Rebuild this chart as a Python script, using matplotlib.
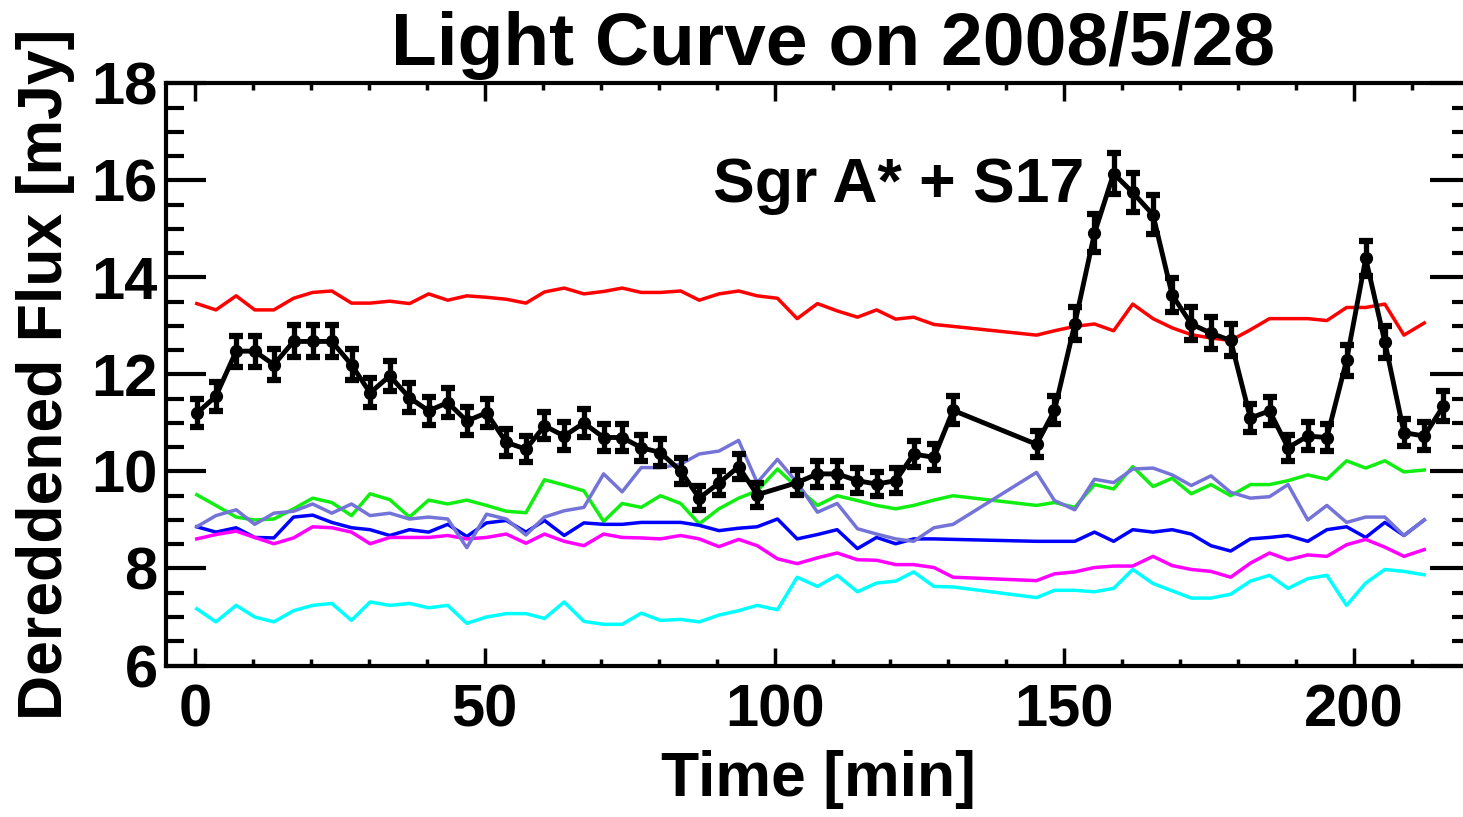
import matplotlib
matplotlib.use("Agg")
import matplotlib.pyplot as plt
from matplotlib.ticker import MultipleLocator

# time samples [min]
t_sgr = [0.3, 3.6, 7.1, 10.3, 13.6, 17.0, 20.3, 23.6, 27.0, 30.2,
         33.6, 37.0, 40.3, 43.6, 46.9, 50.3, 53.7, 57.1, 60.3, 63.7,
         67.1, 70.5, 73.7, 77.0, 80.3, 83.8, 87.0, 90.4, 93.8, 97.0,
         103.9, 107.4, 110.8, 114.3, 117.6, 120.9, 124.0, 127.5, 130.8,
         145.2, 148.3, 151.8, 155.2, 158.5, 161.8, 165.3, 168.6, 171.9, 175.3,
         178.7, 182.1, 185.4, 188.6, 192.0, 195.3, 198.7, 202.0, 205.3, 208.6,
         212.1, 215.4]

t_comp = [0.3, 3.6, 7.1, 10.3, 13.6, 17.0, 20.3, 23.6, 27.0, 30.2,
          33.6, 37.0, 40.3, 43.6, 46.9, 50.3, 53.7, 57.1, 60.3, 63.7,
          67.1, 70.5, 73.7, 77.0, 80.3, 83.8, 87.0, 90.4, 93.8, 97.0,
          100.5,
          103.9, 107.4, 110.8, 114.3, 117.6, 120.9, 124.0, 127.5, 130.8,
          145.2, 148.3, 151.8, 155.2, 158.5, 161.8, 165.3, 168.6, 171.9, 175.3,
          178.7, 182.1, 185.4, 188.6, 192.0, 195.3, 198.7, 202.0, 205.3, 208.6,
          212.1]

# Sgr A* + S17 flux [mJy] and errors
flux_sgr = [11.20, 11.55, 12.48, 12.48, 12.20, 12.68, 12.68, 12.68, 12.20, 11.62,
            11.97, 11.52, 11.25, 11.42, 11.04, 11.21, 10.60, 10.46, 10.94, 10.73,
            11.00, 10.70, 10.70, 10.49, 10.39, 10.01, 9.45, 9.76, 10.10, 9.52,
            9.77, 9.95, 9.95, 9.81, 9.74, 9.81, 10.36, 10.29, 11.26,
            10.56, 11.26, 13.04, 14.91, 16.14, 15.75, 15.29, 13.64, 13.04, 12.85,
            12.70, 11.10, 11.25, 10.49, 10.73, 10.70, 12.29, 14.39, 12.67, 10.80,
            10.73, 11.35]
err_sgr = [0.29, 0.30, 0.32, 0.32, 0.32, 0.33, 0.33, 0.33, 0.32, 0.30,
           0.31, 0.30, 0.29, 0.30, 0.29, 0.29, 0.28, 0.27, 0.28, 0.28,
           0.29, 0.28, 0.28, 0.27, 0.27, 0.26, 0.25, 0.25, 0.26, 0.25,
           0.25, 0.26, 0.26, 0.26, 0.25, 0.26, 0.27, 0.27, 0.29,
           0.27, 0.29, 0.34, 0.39, 0.42, 0.41, 0.40, 0.35, 0.34, 0.33,
           0.33, 0.29, 0.29, 0.27, 0.28, 0.28, 0.32, 0.37, 0.33, 0.28,
           0.28, 0.30]

# comparison stars [mJy]
red = [13.46, 13.33, 13.62, 13.33, 13.33, 13.57, 13.69, 13.72, 13.47, 13.47,
       13.51, 13.46, 13.66, 13.53, 13.62, 13.59, 13.55, 13.47, 13.70, 13.78,
       13.66, 13.71, 13.78, 13.69, 13.69, 13.72, 13.53, 13.66, 13.72, 13.62,
       13.57,
       13.15, 13.46, 13.31, 13.18, 13.33, 13.14, 13.18, 13.03, 12.99,
       12.81, 12.90, 12.99, 13.04, 12.90, 13.45, 13.15, 12.96, 12.82, 12.75,
       12.70, 12.92, 13.15, 13.15, 13.15, 13.11, 13.38, 13.38, 13.45, 12.81,
       13.06]
green = [9.52, 9.30, 9.06, 9.00, 9.02, 9.23, 9.45, 9.36, 9.09, 9.54,
         9.42, 9.06, 9.41, 9.33, 9.41, 9.30, 9.18, 9.15, 9.83, 9.72,
         9.60, 8.97, 9.34, 9.26, 9.50, 9.34, 8.92, 9.23, 9.45, 9.60,
         10.05,
         9.67, 9.30, 9.50, 9.40, 9.30, 9.23, 9.30, 9.41, 9.50,
         9.30, 9.36, 9.26, 9.73, 9.64, 10.10, 9.69, 9.86, 9.54, 9.73,
         9.50, 9.73, 9.73, 9.81, 9.93, 9.84, 10.22, 10.07, 10.22, 9.99,
         10.03]
blue = [8.86, 8.75, 8.84, 8.64, 8.63, 9.06, 9.10, 8.95, 8.84, 8.80,
        8.68, 8.80, 8.75, 8.91, 8.66, 8.94, 8.99, 8.75, 8.99, 8.68,
        8.94, 8.91, 8.91, 8.95, 8.95, 8.95, 8.89, 8.78, 8.83, 8.86,
        9.02,
        8.61, 8.70, 8.80, 8.41, 8.64, 8.51, 8.61, 8.61, 8.60,
        8.56, 8.56, 8.56, 8.75, 8.56, 8.80, 8.75, 8.80, 8.71, 8.47,
        8.36, 8.61, 8.64, 8.68, 8.56, 8.80, 8.86, 8.64, 8.95, 8.68,
        9.00]
magenta = [8.61, 8.70, 8.77, 8.64, 8.51, 8.63, 8.86, 8.84, 8.75, 8.51,
           8.64, 8.64, 8.64, 8.68, 8.61, 8.64, 8.71, 8.52, 8.71, 8.56,
           8.47, 8.71, 8.64, 8.63, 8.61, 8.68, 8.61, 8.45, 8.60, 8.47,
           8.20,
           8.10, 8.22, 8.32, 8.18, 8.17, 8.08, 8.08, 8.02, 7.82,
           7.75, 7.89, 7.93, 8.02, 8.05, 8.05, 8.25, 8.06, 7.98, 7.94,
           7.82, 8.11, 8.32, 8.18, 8.28, 8.25, 8.49, 8.60, 8.44, 8.25,
           8.39]
cyan = [7.17, 6.90, 7.24, 7.00, 6.90, 7.13, 7.24, 7.28, 6.93, 7.31,
        7.24, 7.28, 7.19, 7.24, 6.87, 7.00, 7.07, 7.07, 6.97, 7.31,
        6.91, 6.85, 6.85, 7.08, 6.93, 6.95, 6.90, 7.04, 7.13, 7.24,
        7.15,
        7.82, 7.63, 7.86, 7.52, 7.70, 7.74, 7.93, 7.63, 7.62,
        7.40, 7.55, 7.55, 7.52, 7.59, 7.98, 7.69, 7.54, 7.39, 7.39,
        7.47, 7.74, 7.86, 7.59, 7.79, 7.86, 7.24, 7.70, 7.98, 7.94,
        7.87]
slate = [8.86, 9.09, 9.21, 8.91, 9.14, 9.18, 9.33, 9.14, 9.33, 9.09,
         9.14, 9.02, 9.06, 9.02, 8.43, 9.12, 9.02, 8.69, 9.06, 9.19,
         9.26, 9.95, 9.58, 10.08, 10.08, 10.15, 10.36, 10.42, 10.64, 9.77,
         10.25,
         9.77, 9.16, 9.34, 8.82, 8.71, 8.61, 8.56, 8.84, 8.91,
         9.98, 9.40, 9.21, 9.84, 9.77, 10.05, 10.07, 9.93, 9.71, 9.91,
         9.57, 9.45, 9.48, 9.73, 9.00, 9.30, 8.95, 9.06, 9.06, 8.68,
         9.00]

plt.rcParams['font.family'] = ['Liberation Sans', 'DejaVu Sans']
plt.rcParams['font.weight'] = 'bold'

fig = plt.figure(figsize=(14.63, 8.17), dpi=100)
ax = fig.add_axes([0.1135, 0.1854, 0.8913, 0.7126])

comp_lw = 2.5
ax.plot(t_comp, red, color='#ff0000', lw=comp_lw)
ax.plot(t_comp, green, color='#11ee11', lw=comp_lw)
ax.plot(t_comp, blue, color='#0000ff', lw=comp_lw)
ax.plot(t_comp, magenta, color='#ff00ff', lw=comp_lw)
ax.plot(t_comp, cyan, color='#00ffff', lw=comp_lw)
ax.plot(t_comp, slate, color='#7474d8', lw=comp_lw)

ax.errorbar(t_sgr, flux_sgr, yerr=err_sgr, color='black', lw=3.5,
            marker='o', ms=8.5, elinewidth=3.8, capsize=5, capthick=4.5)

ax.text(153.5, 15.9, 'Sgr A* + S17', fontsize=45, fontweight='bold',
        ha='right', va='center')

ax.set_xlim(-5, 220)
ax.set_ylim(6, 18)
ax.xaxis.set_major_locator(MultipleLocator(50))
ax.xaxis.set_minor_locator(MultipleLocator(10))
ax.yaxis.set_major_locator(MultipleLocator(2))
ax.yaxis.set_minor_locator(MultipleLocator(0.5))

ax.tick_params(axis='both', which='both', direction='in',
               top=True, right=True, labelsize=43)
ax.tick_params(axis='x', which='major', length=13, width=2.5, pad=13)
ax.tick_params(axis='x', which='minor', length=5, width=2.5)
ax.tick_params(axis='y', which='major', length=29, width=3, pad=6)
ax.tick_params(axis='y', which='minor', length=13, width=3)
for lab in ax.get_xticklabels() + ax.get_yticklabels():
    lab.set_fontweight('bold')
for sp in ax.spines.values():
    sp.set_linewidth(3)

ax.set_xlabel('Time [min]', fontsize=45, fontweight='bold', labelpad=8)
ax.set_ylabel('Dereddened Flux [mJy]', fontsize=45, fontweight='bold', labelpad=12)
fig.text(0.5697, 1 - 45 / 817, 'Light Curve on 2008/5/28', fontsize=54,
         fontweight='bold', ha='center', va='center')

fig.savefig('out.png', dpi=100)
